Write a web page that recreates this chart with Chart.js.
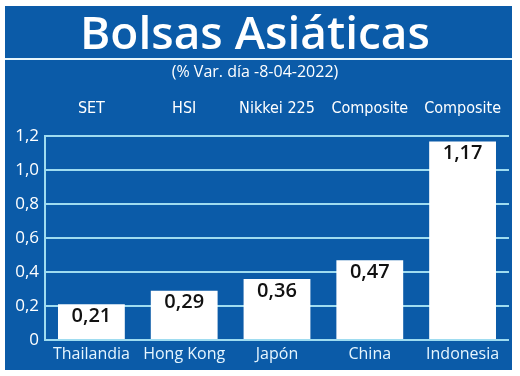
<!DOCTYPE html>
<html>
<head>
<meta charset="utf-8">
<script src="https://cdn.jsdelivr.net/npm/chart.js@4/dist/chart.umd.min.js"></script>
<style>
html,body{margin:0;padding:0;background:#fff;}
#wrap{width:520px;height:376px;position:relative;}
</style>
</head>
<body>
<div id="wrap"><canvas id="c" width="520" height="376"></canvas></div>
<script>
const countries = ["Thailandia", "Hong Kong", "Japón", "China", "Indonesia"];
const indices = ["SET", "HSI", "Nikkei 225", "Composite", "Composite"];
const values = [0.21, 0.29, 0.36, 0.47, 1.17];
const titleText = "Bolsas Asiáticas";
const subtitleText = "(% Var. día -8-04-2022)";

const BLUE = "#0b5ba8";
const GRID = "#9fdcf0";
const fmt = v => (v === 0 ? "0" : v.toFixed(2).replace(/0$/, "").replace(".", ","));

const bgPlugin = {
  id: "bg",
  beforeDraw(chart) {
    const ctx = chart.ctx;
    ctx.save();
    ctx.fillStyle = "#ffffff";
    ctx.fillRect(0, 0, chart.width, chart.height);
    ctx.fillStyle = BLUE;
    ctx.fillRect(5, 6, 507, 364);
    ctx.strokeStyle = "#e8f6fc";
    ctx.lineWidth = 2;
    ctx.beginPath();
    ctx.moveTo(5, 59);
    ctx.lineTo(512, 59);
    ctx.stroke();
    ctx.restore();
  }
};

const labelPlugin = {
  id: "vals",
  afterDatasetsDraw(chart) {
    const ctx = chart.ctx;
    const meta = chart.getDatasetMeta(0);
    ctx.save();
    ctx.fillStyle = "#111111";
    ctx.font = "600 20px 'Open Sans', sans-serif";
    ctx.textAlign = "center";
    ctx.textBaseline = "middle";
    meta.data.forEach((bar, i) => {
      ctx.fillText(values[i].toFixed(2).replace(".", ","), bar.x, bar.y + 12);
    });
    ctx.restore();
  }
};

new Chart(document.getElementById("c"), {
  type: "bar",
  data: {
    labels: countries,
    datasets: [{
      data: values,
      backgroundColor: "#ffffff",
      borderWidth: 0,
      barPercentage: 0.72,
      categoryPercentage: 1.0
    }]
  },
  options: {
    responsive: false,
    animation: false,
    layout: { padding: { left: 0, right: 10, top: 0, bottom: 0 } },
    plugins: {
      legend: { display: false },
      tooltip: { enabled: false },
      title: {
        display: true,
        text: titleText,
        color: "#ffffff",
        font: { family: "'Open Sans', sans-serif", size: 46, weight: "600" },
        padding: { top: 8, bottom: 0 }
      },
      subtitle: {
        display: true,
        text: subtitleText,
        color: "#ffffff",
        font: { family: "'Open Sans', sans-serif", size: 16, weight: "normal" },
        padding: { top: 0, bottom: 4 }
      }
    },
    scales: {
      x: {
        type: "category",
        position: "bottom",
        grid: { display: false },
        border: { display: false },
        ticks: {
          color: "#e6f6ff",
          font: { family: "'Open Sans', sans-serif", size: 16 },
          padding: -3,
          maxRotation: 0,
          autoSkip: false
        },
        afterFit(s) { s.height = 36; }
      },
      x2: {
        type: "category",
        position: "top",
        labels: indices,
        grid: { display: false, drawTicks: false },
        border: { display: false },
        ticks: {
          color: "#ffffff",
          font: { family: "'Liberation Sans Narrow', 'DejaVu Sans Condensed', sans-serif", size: 16 },
          padding: 18,
          maxRotation: 0,
          autoSkip: false
        },
        afterFit(s) { s.height = 50; }
      },
      y: {
        min: 0,
        max: 1.2,
        ticks: {
          stepSize: 0.2,
          color: "#ffffff",
          font: { family: "'Open Sans', sans-serif", size: 17 },
          padding: 6,
          callback: v => fmt(v)
        },
        grid: { color: GRID, lineWidth: 2, drawTicks: false },
        border: { display: true, color: GRID, width: 2 },
        afterFit(s) { s.width = 45; }
      }
    }
  },
  plugins: [bgPlugin, labelPlugin]
});
</script>
</body>
</html>
